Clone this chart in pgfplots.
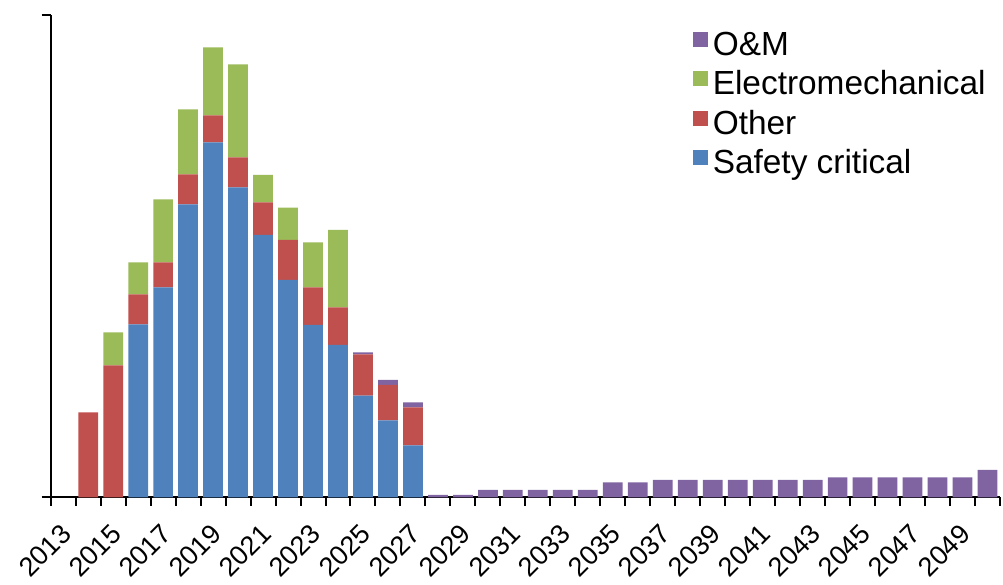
\documentclass[border=0pt]{standalone}
\usepackage{fontspec}
\setmainfont{Liberation Sans}
\usepackage{graphicx}
\usepackage{pgfplots}
\usepackage{pgfplotstable}
\pgfplotsset{compat=1.18}
\usetikzlibrary{calc}
\definecolor{cBlue}{HTML}{4F81BD}
\definecolor{cRed}{HTML}{C0504D}
\definecolor{cGreen}{HTML}{9BBB59}
\definecolor{cPurple}{HTML}{8064A2}
\newcommand{\R}[1]{\rotatebox{45}{#1}}

\pgfplotstableread{
idx blue red green purple
0 0 0 0 0
1 0 85 0 0
2 0 132 33 0
3 173 30 32 0
4 210 25 63 0
5 293 30 65 0
6 355 27 68 0
7 310 30 93 0
8 262.5 32.5 27.5 0
9 217.5 40 32.3 0
10 172.5 37.7 45 0
11 152.5 37.7 77.3 0
12 101.8 41.4 0 2
13 77 35.5 0 5
14 52 38 0 5
15 0 0 0 2.5
16 0 0 0 2.5
17 0 0 0 7.5
18 0 0 0 7.5
19 0 0 0 7.5
20 0 0 0 7.5
21 0 0 0 7.5
22 0 0 0 15
23 0 0 0 15
24 0 0 0 17.5
25 0 0 0 17.5
26 0 0 0 17.5
27 0 0 0 17.5
28 0 0 0 17.5
29 0 0 0 17.5
30 0 0 0 17.5
31 0 0 0 20
32 0 0 0 20
33 0 0 0 20
34 0 0 0 20
35 0 0 0 20
36 0 0 0 20
37 0 0 0 27.5
}\data

\begin{document}
\begin{tikzpicture}
\begin{axis}[
  name=ax,
  scale only axis,
  width=949.3pt, height=482.5pt,
  ybar stacked, bar width=0.79,
  xmin=-0.5, xmax=37.5, ymin=0, ymax=482.5,
  axis lines*=left,
  axis line style={line width=2pt, black},
  tick align=outside,
  major tick length=9pt,
  tick style={line width=2pt, black},
  xtick={0,2,...,36},
  xtick style={draw=none},
  xticklabels={\R{2013},\R{2015},\R{2017},\R{2019},\R{2021},\R{2023},\R{2025},\R{2027},\R{2029},\R{2031},\R{2033},\R{2035},\R{2037},\R{2039},\R{2041},\R{2043},\R{2045},\R{2047},\R{2049}},
  xticklabel style={anchor=north east, inner sep=0pt, xshift=10pt, yshift=-16pt, font=\fontsize{27}{30}\selectfont},
  ytick={0,482.5},
  yticklabels={},
  clip=false,
  reverse legend,
  legend cell align=left,
  legend style={at={(0.673,0.975)}, anchor=north west, draw=none, fill=none,
    font=\fontsize{33.4}{36}\selectfont, row sep=4.5pt,
    nodes={text height=24pt, text depth=7pt, inner ysep=2pt, inner xsep=5pt}},
  sq/.style={draw=none, fill=#1, legend image code/.code={\fill[#1] (0pt,0pt) rectangle (15pt,15pt);}},
]
\addplot[sq=cBlue] table[x=idx, y=blue] {\data};
\addplot[sq=cRed] table[x=idx, y=red] {\data};
\addplot[sq=cGreen] table[x=idx, y=green] {\data};
\addplot[sq=cPurple] table[x=idx, y=purple] {\data};
\legend{Safety critical, Other, Electromechanical, O\&M}
\pgfplotsinvokeforeach{-0.5,0.5,...,37.5}{
  \draw[line width=2pt, black] (axis cs:#1,0) -- ([yshift=-9pt]axis cs:#1,0);
}
\end{axis}
\pgfresetboundingbox
\path ($(ax.south west)+(-50.7pt,-87.5pt)$) rectangle ($(ax.south west)+(952.3pt,497.5pt)$);
\end{tikzpicture}
\end{document}
